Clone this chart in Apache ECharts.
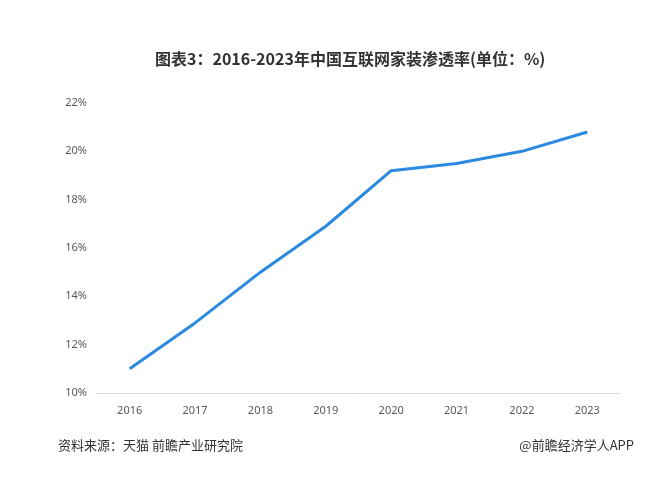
<!DOCTYPE html>
<html><head><meta charset="utf-8">
<script src="https://cdn.jsdelivr.net/npm/echarts@6/dist/echarts.min.js"></script>
<style>html,body{margin:0;padding:0;background:#fff}#c{width:668px;height:480px}</style>
</head><body><div id="c"></div>
<script>
var years = ['2016','2017','2018','2019','2020','2021','2022','2023'];
var rates = [11.0, 12.9, 15.0, 16.9, 19.2, 19.5, 20.0, 20.8];
var titleText = '图表3：2016-2023年中国互联网家装渗透率(单位：%)';
var sourceText = '资料来源：天猫 前瞻产业研究院';
var brandText = '@前瞻经济学人APP';
var chart = echarts.init(document.getElementById('c'), null, {renderer:'canvas'});
chart.setOption({
  animation:false,
  backgroundColor:'#fff',
  title:{text:titleText,left:150,top:46,textStyle:{fontSize:16,fontWeight:'bold',color:'#333',fontFamily:'Noto Sans CJK SC'}},
  graphic:[
    {type:'text',left:58,top:439,style:{text:sourceText,fontSize:13,fill:'#333',fontFamily:'Noto Sans CJK SC'}},
    {type:'text',right:34,top:439,style:{text:brandText,fontSize:13,fill:'#333',fontFamily:'Noto Sans CJK SC'}}
  ],
  grid:{left:97,right:48,top:103,bottom:87},
  xAxis:{type:'category',data:years,boundaryGap:true,
    axisLine:{lineStyle:{color:'#d9d9d9'}},axisTick:{show:false},
    axisLabel:{color:'#595959',fontSize:11,margin:12,fontFamily:'Noto Sans'}},
  yAxis:{type:'value',min:10,max:22,interval:2,
    axisLine:{show:false},axisTick:{show:false},splitLine:{show:false},
    axisLabel:{color:'#595959',fontSize:11,margin:10,formatter:'{value}%',fontFamily:'Noto Sans'}},
  series:[{type:'line',data:rates,symbol:'none',lineStyle:{color:'#2b8ae0',width:3}}]
});
</script></body></html>
